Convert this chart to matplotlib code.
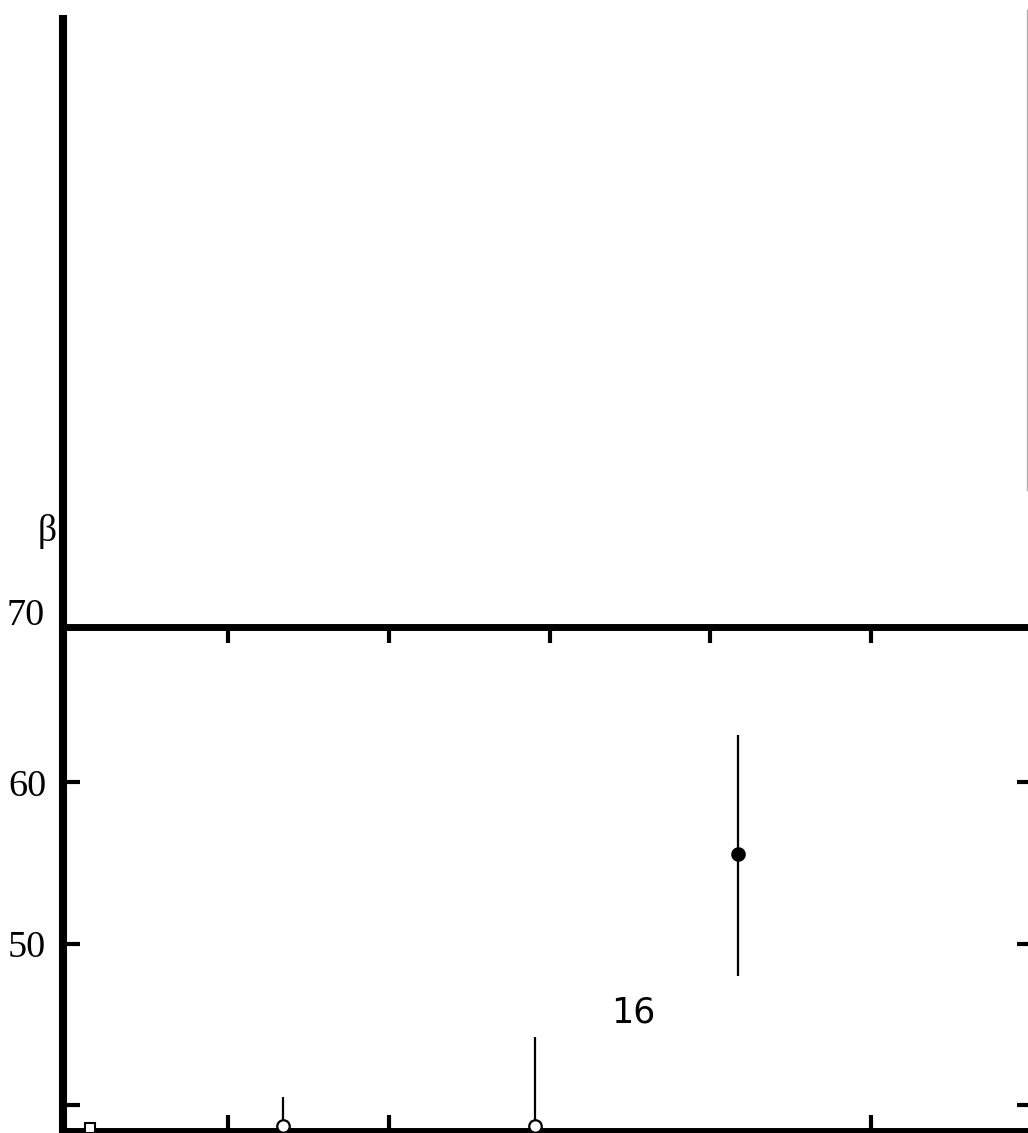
import matplotlib.pyplot as plt
from matplotlib.lines import Line2D

# values
x_square = [0.14]
y_square = [38.55]
x_open = [1.34, 2.91]
y_open = [38.68, 38.68]
err_open = [1.8, 5.5]
x_filled = [4.17]
y_filled = [55.56]
err_filled_lo = [7.6]
err_filled_hi = [7.4]

y_ticks = [40, 50, 60]
y_ticklabels = ['', '50', '60']
x_ticks = [1, 2, 3, 4, 5]
bottom_hidden = [2, 3]   # index of bottom ticks that are not drawn
label_text = '16'

plt.rcParams['font.family'] = ['Liberation Serif', 'DejaVu Serif']

fig = plt.figure(figsize=(10.28, 11.33), dpi=100)
W, H = 1028, 1133

left = 63 / W
right = 1034 / W
y_mid = 1 - 627 / H
y_bot = 1 - 1131 / H
y_top = 1 - 19 / H

ax_up = fig.add_axes([left, y_mid, right - left, y_top - y_mid])
ax = fig.add_axes([left, y_bot, right - left, y_mid - y_bot])

# upper empty panel
for s in ['top', 'right', 'bottom']:
    ax_up.spines[s].set_visible(False)
ax_up.spines['left'].set_linewidth(5.8)
ax_up.set_xticks([])
ax_up.set_yticks([])
ax_up.set_ylabel('β', rotation=0, fontsize=27, ha='center', va='center')
ax_up.yaxis.set_label_coords(-0.0165, 0.157)

# lower panel with the data
ax.set_xlim(-0.027, 6.014)
ax.set_ylim(38.37, 69.65)

ax.errorbar(x_open, y_open, yerr=err_open, fmt='o', ms=9, mfc='white',
            mec='black', mew=1.6, ecolor='black', elinewidth=1.6, capsize=0,
            zorder=5)
ax.errorbar(x_filled, y_filled, yerr=[err_filled_lo, err_filled_hi], fmt='o',
            ms=9.5, color='black', ecolor='black', elinewidth=1.6, capsize=0,
            zorder=5)
ax.plot(x_square, y_square, 's', ms=7, mfc='white', mec='black', mew=1.5,
        zorder=5, clip_on=False)

ax.spines['right'].set_visible(False)
ax.spines['left'].set_linewidth(5.8)
ax.spines['top'].set_linewidth(5)
ax.spines['bottom'].set_linewidth(5)

ax.set_xticks(x_ticks)
ax.set_xticklabels([])
ax.tick_params(axis='x', direction='in', top=True, bottom=True,
               length=11.5, width=3)
for i in bottom_hidden:
    ax.xaxis.get_major_ticks()[i].tick1line.set_visible(False)

ax.set_yticks(y_ticks)
ax.set_yticklabels(y_ticklabels, fontsize=27.5)
ax.tick_params(axis='y', direction='in', left=True, right=True,
               length=12, width=3, pad=12)

ax.text(-0.0185, 69.75, '70', transform=ax.get_yaxis_transform(),
        ha='right', va='baseline', fontsize=27.5, clip_on=False)

ax.text(3.52, 45.7, label_text, family='DejaVu Sans', fontsize=25,
        ha='center', va='center')

# faint line at the right edge
fig.add_artist(Line2D([1027 / W, 1027 / W], [1 - 10 / H, 1 - 490 / H],
                      color='#b0b0b0', lw=1))

fig.savefig('out.png', dpi=100)
